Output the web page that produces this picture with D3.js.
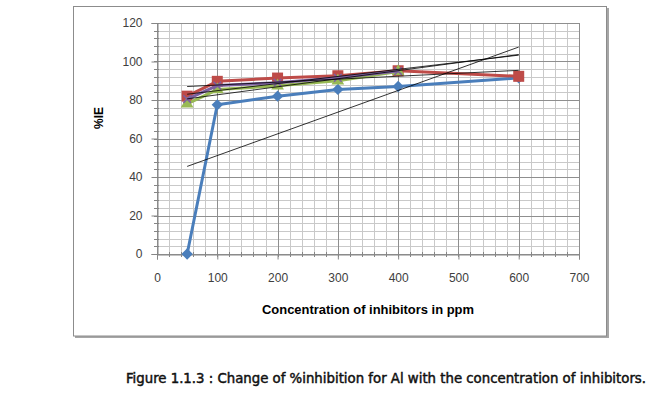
<!DOCTYPE html>
<html lang="en">
<head>
<meta charset="UTF-8">
<script src="https://d3js.org/d3.v7.min.js"></script>
<title>%IE vs concentration</title>
<style>
  body { margin: 0; background: #fff; }
  text { font-family: "Liberation Sans", Arial, sans-serif; }
</style>
</head>
<body>
<div id="chart"></div>
<script>
// concentrations (ppm) and %IE for each inhibitor series
const concA = [50, 100, 200, 300, 400, 600];
const blueIE = [0, 77.5, 82, 85.5, 87, 91.5];
const redIE = [82, 89.7, 91.4, 92.6, 95.2, 92.3];
const concB = [50, 100, 200, 300, 400];
const greenIE = [78, 85.4, 87.4, 90, 94.8];
const purpleIE = [80.5, 87.5, 89, 91.5, 95];

// linear trendlines, value at x=50 and x=600
const trendX = [50, 600];
const blueTrend = [45.5, 107.5];
const redTrend = [87, 95.4];
const greenTrend = [80.6, 103.6];
const purpleTrend = [83, 103.3];

const xTicks = [0, 100, 200, 300, 400, 500, 600, 700];
const yTicks = [0, 20, 40, 60, 80, 100, 120];

const W = 658, H = 395;
const svg = d3.select("#chart").append("svg")
  .attr("width", W).attr("height", H);

// chart frame with a small shadow on the right and bottom
svg.append("line").attr("x1", 608).attr("x2", 608).attr("y1", 8).attr("y2", 337.5)
  .attr("stroke", "#a6a6a6").attr("stroke-width", 2);
svg.append("line").attr("x1", 75).attr("x2", 609).attr("y1", 337).attr("y2", 337)
  .attr("stroke", "#a6a6a6").attr("stroke-width", 2);
svg.append("rect").attr("x", 73.5).attr("y", 6.5).attr("width", 533).attr("height", 329.5)
  .attr("fill", "none").attr("stroke", "#8c8c8c");

const x = d3.scaleLinear().domain([0, 700]).range([157, 579]);
const y = d3.scaleLinear().domain([0, 120]).range([254, 23]);

// minor grid
const grid = svg.append("g");
grid.selectAll(".vmin").data(d3.range(0, 701, 20)).join("line")
  .attr("x1", d => Math.round(x(d)) + 0.5).attr("x2", d => Math.round(x(d)) + 0.5)
  .attr("y1", y(120)).attr("y2", y(0))
  .attr("stroke", "#c9c9c9");
grid.selectAll(".hmin").data(d3.range(0, 121, 4)).join("line")
  .attr("x1", x(0)).attr("x2", x(700))
  .attr("y1", d => Math.round(y(d)) + 0.5).attr("y2", d => Math.round(y(d)) + 0.5)
  .attr("stroke", "#c9c9c9");
// major grid
grid.selectAll(".vmaj").data(xTicks).join("line")
  .attr("x1", d => Math.round(x(d)) + 0.5).attr("x2", d => Math.round(x(d)) + 0.5)
  .attr("y1", y(120)).attr("y2", y(0))
  .attr("stroke", "#8f8f8f");
grid.selectAll(".hmaj").data(yTicks).join("line")
  .attr("x1", x(0)).attr("x2", x(700))
  .attr("y1", d => Math.round(y(d)) + 0.5).attr("y2", d => Math.round(y(d)) + 0.5)
  .attr("stroke", "#8f8f8f");

// axes
const xAxis = svg.append("g").attr("transform", `translate(0,${Math.round(y(0)) + 0.5})`)
  .call(d3.axisBottom(x).tickValues(xTicks).tickSize(5).tickPadding(14));
const yAxis = svg.append("g").attr("transform", `translate(${Math.round(x(0)) + 0.5},0)`)
  .call(d3.axisLeft(y).tickValues(yTicks).tickSize(6).tickPadding(9));
[xAxis, yAxis].forEach(a => {
  a.select(".domain").attr("stroke", "#868686");
  a.selectAll(".tick line").attr("stroke", "#868686");
  a.selectAll("text").attr("font-size", 12).attr("fill", "#404040")
    .style("font-family", "'Liberation Sans', Arial, sans-serif");
});
// minor ticks crossing the axes
svg.append("g").selectAll("line").data(d3.range(0, 701, 20)).join("line")
  .attr("x1", d => Math.round(x(d)) + 0.5).attr("x2", d => Math.round(x(d)) + 0.5)
  .attr("y1", y(0) - 2).attr("y2", y(0) + 3).attr("stroke", "#868686");
svg.append("g").selectAll("line").data(d3.range(0, 121, 4)).join("line")
  .attr("y1", d => Math.round(y(d)) + 0.5).attr("y2", d => Math.round(y(d)) + 0.5)
  .attr("x1", x(0) - 3).attr("x2", x(0) + 2).attr("stroke", "#868686");

// axis titles
svg.append("text").attr("x", 368).attr("y", 314).attr("text-anchor", "middle")
  .attr("font-size", 12).attr("font-weight", "bold").attr("fill", "#000")
  .attr("textLength", 212).attr("lengthAdjust", "spacingAndGlyphs")
  .text("Concentration of inhibitors in ppm");
svg.append("text").attr("transform", "translate(103,118) rotate(-90)")
  .attr("text-anchor", "middle").attr("font-size", 12).attr("font-weight", "bold")
  .attr("fill", "#000").text("%IE");

// series
const line = d3.line().x(d => x(d[0])).y(d => y(d[1]));
const series = [
  { xs: concA, ys: blueIE, color: "#4a7ebb", shape: "diamond" },
  { xs: concA, ys: redIE, color: "#be4b48", shape: "square" },
  { xs: concB, ys: greenIE, color: "#98b954", shape: "triangle" },
  { xs: concB, ys: purpleIE, color: "#7d60a0", shape: "x" }
];
const symbols = {
  diamond: d3.symbol().type(d3.symbolSquare).size(64),
  square: d3.symbol().type(d3.symbolSquare).size(121),
  triangle: d3.symbol().type(d3.symbolTriangle).size(70),
  x: d3.symbol().type(d3.symbolX).size(40)
};
series.forEach(s => {
  const pts = s.xs.map((v, i) => [v, s.ys[i]]);
  const g = svg.append("g");
  g.append("path").datum(pts).attr("d", line)
    .attr("fill", "none").attr("stroke", s.color).attr("stroke-width", 3)
    .attr("stroke-linejoin", "round");
  g.selectAll("path.m").data(pts).join("path").attr("class", "m")
    .attr("d", symbols[s.shape])
    .attr("transform", d => `translate(${x(d[0])},${y(d[1])})` + (s.shape === "diamond" ? " rotate(45)" : ""))
    .attr("fill", s.shape === "x" ? "none" : s.color)
    .attr("stroke", s.shape === "x" ? s.color : "none")
    .attr("stroke-width", 1.5);
});

// trendlines
[blueTrend, redTrend, greenTrend, purpleTrend].forEach(t => {
  svg.append("path").datum(trendX.map((v, i) => [v, t[i]])).attr("d", line)
    .attr("fill", "none").attr("stroke", "#000").attr("stroke-width", 0.8);
});

// figure caption
svg.append("text").attr("x", 126).attr("y", 383)
  .attr("font-size", 14).attr("fill", "#111")
  .attr("stroke", "#111").attr("stroke-width", 0.45)
  .attr("textLength", 520).attr("lengthAdjust", "spacingAndGlyphs")
  .style("font-family", "'DejaVu Sans Condensed', 'DejaVu Sans', sans-serif")
  .text("Figure 1.1.3 : Change of %inhibition for Al with the concentration of inhibitors.");
</script>
</body>
</html>
